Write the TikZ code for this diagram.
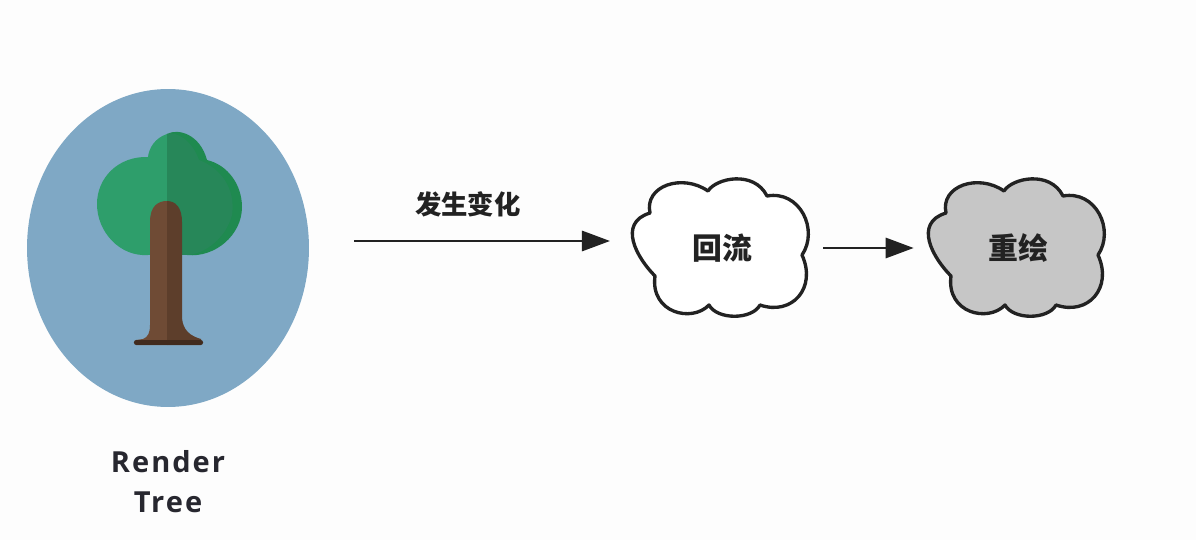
\documentclass[tikz,border=0pt]{standalone}
\usepackage{fontspec}
\setmainfont{Open Sans}
\newfontfamily\cjk{Noto Sans CJK SC}
\newfontfamily\spaced[LetterSpace=7]{Open Sans}
\usetikzlibrary{arrows.meta,positioning,backgrounds,shapes.geometric}
\definecolor{paper}{HTML}{FDFDFD}
\definecolor{skyblue}{HTML}{7FA8C5}
\definecolor{leaflight}{HTML}{2E9E6B}
\definecolor{leafdark}{HTML}{278759}
\definecolor{leafrim}{HTML}{1F8A50}
\definecolor{barklight}{HTML}{6F4B35}
\definecolor{barkdark}{HTML}{5D3E2B}
\definecolor{inkdark}{HTML}{222222}
\definecolor{puffgrey}{HTML}{C6C6C6}
\definecolor{captionink}{HTML}{27272F}
\newcommand{\puffpath}{(-14,-57) .. controls (-6,-70) and (32,-78) .. (45,-52)
  .. controls (78,-58) and (97,-18) .. (80,7)
  .. controls (95,40) and (70,68) .. (38,57)
  .. controls (30,72) and (-5,72) .. (-13,57)
  .. controls (-30,75) and (-72,65) .. (-67,28)
  .. controls (-85,10) and (-105,-25) .. (-72,-35)
  .. controls (-78,-62) and (-40,-75) .. cycle}
\tikzset{
  >={Triangle[length=16pt,width=11.5pt]},
  crown/.style={fill=skyblue,shape=ellipse,inner sep=0pt,minimum width=5.64cm,minimum height=6.36cm},
  puff/.style={inner sep=0pt,minimum width=3.54cm,minimum height=2.8cm,font=\cjk\bfseries\fontsize{17}{20}\selectfont,text=inkdark},
  puffline/.style={draw=inkdark,line width=1.9pt,line join=round},
  flow/.style={->,draw=inkdark,line width=1.5pt},
  flowtext/.style={font=\cjk\bfseries\fontsize{15}{18}\selectfont,text=inkdark,inner sep=0pt},
  caption/.style={font=\spaced\bfseries\fontsize{16.5}{22.5}\selectfont,text=captionink,align=center,inner sep=0pt},
}
\begin{document}
\begin{tikzpicture}[x=0.02cm,y=-0.02cm]
  \useasboundingbox (0,0) rectangle (1196,540);
  \node[crown] (tree) at (168,248) {};
  % tree
  \fill[leaflight] (167,134) .. controls (155,138) and (149,148) .. (148,157)
    .. controls (118,156) and (97,178) .. (97,204)
    .. controls (97,232) and (120,257) .. (148,255) -- (167,255) -- cycle;
  \fill[leafrim] (167,134) .. controls (178,128) and (200,134) .. (207,160)
    .. controls (228,165) and (242,185) .. (242,207)
    .. controls (242,235) and (215,258) .. (187,255) -- (167,255) -- cycle;
  \fill[leafdark] (167,134) .. controls (176,131) and (192,140) .. (199,160)
    .. controls (220,168) and (236,188) .. (232,215)
    .. controls (226,238) and (205,254) .. (187,255) -- (167,255) -- cycle;
  \fill[barklight] (150,222) .. controls (150,206) and (158,201) .. (167,201)
    -- (167,345) -- (136,345) -- (136,340) -- (143,339)
    .. controls (148,337) and (150,333) .. (150,325) -- cycle;
  \fill[barkdark] (167,201) .. controls (176,201) and (182,208) .. (182,222)
    -- (182,318) .. controls (183,330) and (190,336) .. (201,339) -- (201,345) -- (167,345) -- cycle;
  \draw[barkdark!70!black,line width=2.4pt,line cap=round] (136,342.5) -- (201,342.5);
  \node[puff] (reflow) at (722,248) {回流};
  \node[puff] (repaint) at (1018,248) {重绘};
  \begin{scope}[on background layer]
  \fill[paper] (0,0) rectangle (1196,540);
  \draw[puffline,fill=white,shift={(reflow.center)}] \puffpath;
  \draw[puffline,fill=puffgrey,shift={(repaint.center)}] \puffpath;
  \end{scope}
  \coordinate (changefrom) at (354,241);
  \coordinate (changeto) at (610,241);
  \draw[flow] (changefrom) -- node[flowtext,pos=0.445,yshift=37*0.02cm]{发生变化} (changeto);
  \draw[flow,shorten <=0.25cm,shorten >=0.31cm] (reflow.east) -- (repaint.west);
  \node[caption,below=0.86cm of tree] (label) {Render\\Tree};
\end{tikzpicture}
\end{document}
